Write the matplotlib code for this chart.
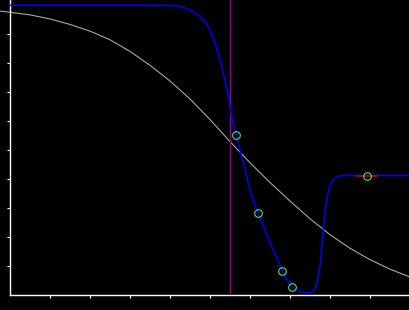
import matplotlib
matplotlib.use("Agg")
import matplotlib.pyplot as plt

# grey reference curve
grey_x = [-0.25, 0.0, 0.5, 1.0, 1.5, 2.0, 2.5, 3.0, 3.5, 4.0, 4.5, 5.0,
          5.5, 6.0, 6.5, 7.0, 7.5, 8.0, 8.5, 9.0, 9.5, 10.0]
grey_y = [9.79, 9.75, 9.66, 9.52, 9.33, 9.10, 8.80, 8.40, 7.92, 7.38, 6.76,
          6.05, 5.29, 4.56, 3.88, 3.24, 2.63, 2.08, 1.61, 1.22, 0.89, 0.62]

# blue fitted curve
blue_x = [0.0, 3.5, 3.88, 4.05, 4.18, 4.33, 4.5, 4.62, 4.75, 4.88, 5.0,
          5.12, 5.25, 5.37, 5.46, 5.54, 5.66, 5.75, 5.88, 6.0, 6.12, 6.21,
          6.42, 6.58, 6.75, 6.81, 6.93, 7.06, 7.25, 7.45, 7.58, 7.67, 7.75,
          7.79, 7.83, 7.88, 7.92, 7.96, 8.0, 8.08, 8.21, 8.38, 10.0]
blue_y = [9.99, 9.99, 9.98, 9.97, 9.96, 9.92, 9.83, 9.72, 9.60, 9.42, 9.14,
          8.71, 8.12, 7.43, 6.83, 6.14, 5.51, 5.0, 4.31, 3.62, 3.10, 2.82,
          2.07, 1.55, 1.03, 0.83, 0.52, 0.26, 0.12, 0.06, 0.12, 0.38, 0.97,
          1.55, 2.24, 2.83, 3.28, 3.55, 3.76, 3.98, 4.10, 4.12, 4.12]

# sample points
pt_x = [5.66, 6.21, 6.81, 7.06, 8.93]
pt_y = [5.51, 2.82, 0.83, 0.26, 4.10]

# tangent at the last point
tan_x = [8.68, 9.18]
tan_y = [4.10, 4.10]

vline_x = 5.51
ticks = [1, 2, 3, 4, 5, 6, 7, 8, 9]

fig = plt.figure(figsize=(4.1, 3.1), dpi=100, facecolor="black")
ax = fig.add_axes([10 / 410, 15 / 310, 400 / 410, 295 / 310])
ax.set_facecolor("black")

ax.plot(grey_x, grey_y, color="#a8a8a8", lw=0.8, clip_on=False, zorder=2)
ax.axvline(vline_x, color="#960096", lw=1.0, zorder=3)
ax.plot(blue_x, blue_y, color="blue", lw=1.1, zorder=4)
ax.plot(tan_x, tan_y, color="#d00000", lw=1.1, zorder=5)
ax.plot(pt_x, pt_y, "o", mfc="none", mec="#40f040", mew=0.8, ms=5.5, zorder=6)

ax.set_xlim(0, 10)
ax.set_ylim(0, 295 / 29)
ax.set_xticks(ticks)
ax.set_yticks(ticks)
ax.set_xticklabels([])
ax.set_yticklabels([])
ax.tick_params(colors="white", direction="out", length=2.2, width=0.8)
for s in ["top", "right"]:
    ax.spines[s].set_visible(False)
for s in ["left", "bottom"]:
    ax.spines[s].set_color("white")
    ax.spines[s].set_linewidth(1.0)

fig.savefig("out.png", dpi=100, facecolor="black")
